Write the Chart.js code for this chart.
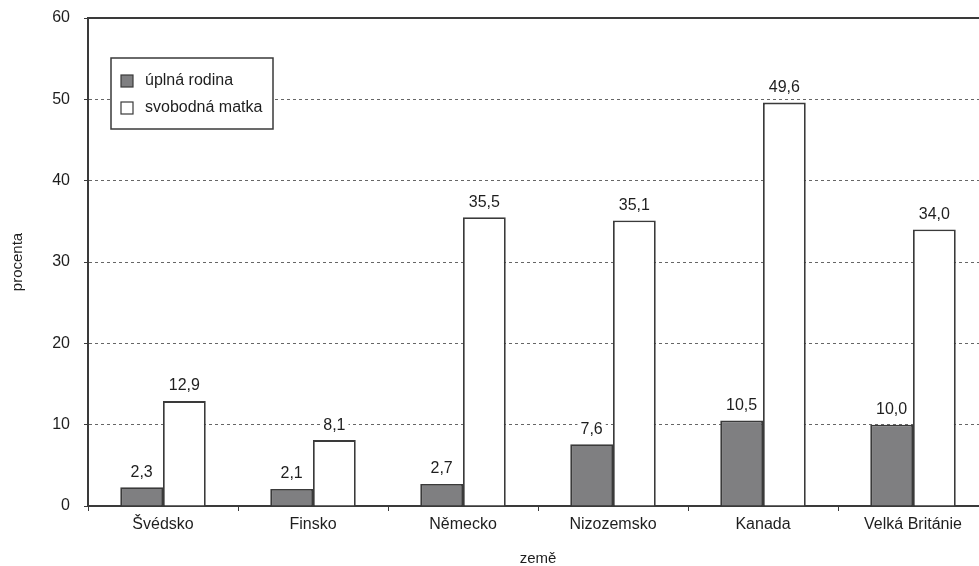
<!DOCTYPE html>
<html>
<head>
<meta charset="utf-8">
<script src="https://cdn.jsdelivr.net/npm/chart.js@4/dist/chart.umd.min.js"></script>
<style>
  html, body { margin: 0; padding: 0; background: #fff; overflow: hidden; width: 979px; height: 566px; }
  #wrap { width: 1000px; height: 566px; }
</style>
</head>
<body>
<div id="wrap"><canvas id="c" width="1000" height="566"></canvas></div>
<script>
const categories = ['Švédsko', 'Finsko', 'Německo', 'Nizozemsko', 'Kanada', 'Velká Británie'];
const seriesNames = ['úplná rodina', 'svobodná matka'];
const fullFamily = [2.3, 2.1, 2.7, 7.6, 10.5, 10.0];
const singleMother = [12.9, 8.1, 35.5, 35.1, 49.6, 34.0];
const yTicks = [0, 10, 20, 30, 40, 50, 60];
const xTitle = 'země';
const yTitle = 'procenta';

const FONT = "'Liberation Sans', Arial, sans-serif";
const TXT = '#1e1e1e';
const EDGE = '#3a3a3a';

const fmt = v => v.toFixed(1).replace('.', ',');

const valueLabels = {
  id: 'valueLabels',
  afterDatasetsDraw(chart) {
    const ctx = chart.ctx;
    ctx.save();
    ctx.font = '16px ' + FONT;
    ctx.textAlign = 'center';
    ctx.textBaseline = 'middle';
    chart.data.datasets.forEach((ds, di) => {
      const meta = chart.getDatasetMeta(di);
      meta.data.forEach((el, i) => {
        const t = fmt(ds.data[i]);
        const w = ctx.measureText(t).width;
        const y = el.y - 15;
        ctx.fillStyle = '#fff';
        ctx.fillRect(el.x - w / 2 - 3, y - 8, w + 6, 16);
        ctx.fillStyle = TXT;
        ctx.fillText(t, el.x, y);
      });
    });
    ctx.restore();
  }
};

const boxLegend = {
  id: 'boxLegend',
  afterDraw(chart) {
    const ctx = chart.ctx;
    const a = chart.chartArea;
    ctx.save();
    ctx.strokeStyle = EDGE;
    ctx.lineWidth = 2;
    ctx.beginPath();
    ctx.moveTo(a.left - 1, a.top);
    ctx.lineTo(chart.width, a.top);
    ctx.stroke();
    const bx = 111, by = 58, bw = 162, bh = 71;
    ctx.lineWidth = 1.5;
    ctx.fillStyle = '#fff';
    ctx.fillRect(bx, by, bw, bh);
    ctx.strokeRect(bx, by, bw, bh);
    ctx.font = '16px ' + FONT;
    ctx.textBaseline = 'middle';
    ctx.textAlign = 'left';
    chart.data.datasets.forEach((ds, i) => {
      const cy = 81 + i * 27;
      ctx.fillStyle = ds.backgroundColor;
      ctx.fillRect(121, cy - 6, 12, 12);
      ctx.lineWidth = 1.2;
      ctx.strokeStyle = EDGE;
      ctx.strokeRect(121, cy - 6, 12, 12);
      ctx.fillStyle = TXT;
      ctx.fillText(ds.label, 145, cy);
    });
    ctx.restore();
  }
};

new Chart(document.getElementById('c'), {
  type: 'bar',
  data: {
    labels: categories,
    datasets: [
      { label: seriesNames[0], data: fullFamily, backgroundColor: '#7f7f81', borderColor: EDGE, borderWidth: 1.8 },
      { label: seriesNames[1], data: singleMother, backgroundColor: '#ffffff', borderColor: EDGE, borderWidth: 1.8 }
    ]
  },
  options: {
    responsive: false,
    animation: false,
    devicePixelRatio: 1,
    layout: { padding: { top: 18, right: 12, left: 0, bottom: 0 } },
    datasets: { bar: { barPercentage: 1, categoryPercentage: 0.57 } },
    plugins: { legend: { display: false }, tooltip: { enabled: false } },
    scales: {
      x: {
        offset: true,
        grid: { display: true, drawOnChartArea: false, drawTicks: true, tickLength: 5, color: EDGE, offset: true },
        border: { color: EDGE, width: 2 },
        ticks: { font: { family: FONT, size: 16 }, color: TXT, padding: 4, maxRotation: 0, autoSkip: false },
        title: { display: true, text: xTitle, font: { family: FONT, size: 15, lineHeight: 0.9 }, color: TXT, padding: { top: 0, bottom: 0 } },
        afterFit(s) { s.height = 60; s.paddingLeft = 0; s.paddingRight = 0; }
      },
      y: {
        min: 0, max: 60,
        afterBuildTicks(s) { s.ticks = yTicks.map(v => ({ value: v })); },
        grid: { color: '#666', lineWidth: 1, tickLength: 4, tickColor: EDGE, tickBorderDash: [] },
        border: { color: EDGE, width: 2, dash: [3, 3] },
        ticks: { font: { family: FONT, size: 16 }, color: TXT, padding: 14 },
        title: { display: true, text: yTitle, font: { family: FONT, size: 15 }, color: TXT, padding: { top: 9, bottom: 0 } },
        afterFit(s) { s.width = 88; s.paddingTop = 0; s.paddingBottom = 0; }
      }
    }
  },
  plugins: [valueLabels, boxLegend]
});
</script>
</body>
</html>
